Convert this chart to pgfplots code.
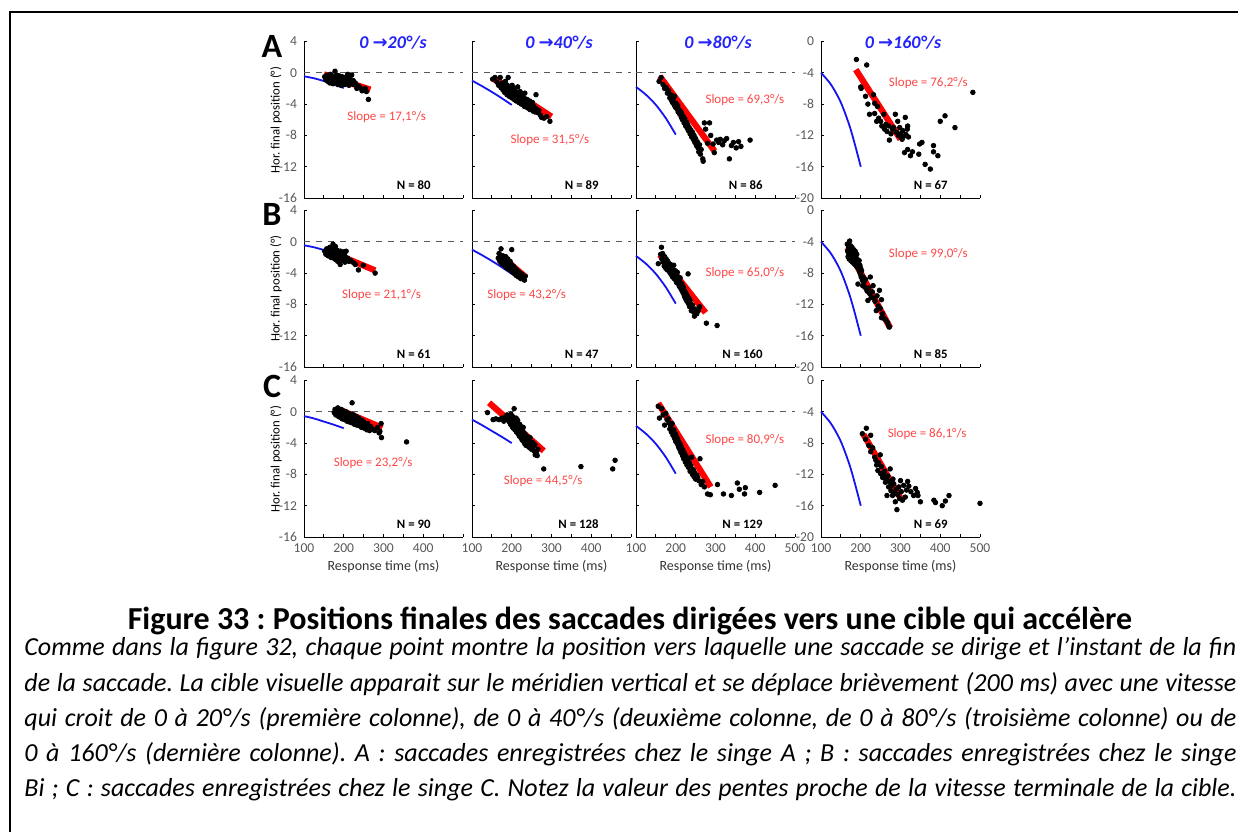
\documentclass[border=0pt]{standalone}
\usepackage{fontspec}
\setmainfont{Carlito}
\newfontfamily\symfont{DejaVu Sans}
\usepackage{pgfplots}
\pgfplotsset{compat=1.18}
\definecolor{tickgray}{RGB}{89,89,89}
\definecolor{slopered}{RGB}{255,70,70}
\definecolor{titleblue}{RGB}{35,35,250}
\definecolor{curveblue}{RGB}{20,20,240}
\tikzset{
  slab/.style={font=\fontsize{6.5}{8}\selectfont, text=slopered},
  nlab/.style={font=\fontsize{6.4}{8}\selectfont\bfseries, anchor=east},
}
\pgfplotsset{
  panel/.style={
    scale only axis, width=79.5pt, height=78.25pt,
    anchor=south west,
    axis x line*=bottom, axis y line*=left,
    xmin=100, xmax=500,
    xtick={100,150,...,500},
    tick align=inside, major tick length=1.6pt,
    tick style={black, line width=0.45pt},
    axis line style={black, line width=0.5pt},
    ticklabel style={font=\fontsize{6.8}{8}\selectfont, text=tickgray},
    xticklabels={},
    clip=false,
  },
  pL/.style={ymin=-16, ymax=4, ytick={-16,-12,-8,-4,0,4}, yticklabels={-16,-12,-8,-4,0,4}},
  pLn/.style={ymin=-16, ymax=4, ytick={-16,-12,-8,-4,0,4}, yticklabels={}},
  pR/.style={ymin=-20, ymax=0, ytick={-20,-16,-12,-8,-4,0}, yticklabels={-20,-16,-12,-8,-4,0}},
  pRn/.style={ymin=-20, ymax=0, ytick={-20,-16,-12,-8,-4,0}, yticklabels={}},
  xl4/.style={xticklabels={100,,200,,300,,400,,}},
  xl5/.style={xticklabels={100,,200,,300,,400,,500}},
  dashl/.style={gray!70!black, dashed, line width=0.5pt, forget plot},
  bluel/.style={curveblue, line width=0.9pt, smooth, no marks},
  dots/.style={only marks, mark=*, mark size=1.15pt, black},
  redl/.style={red, line width=3.1pt, line cap=butt, no marks},
}
\begin{document}
\frenchspacing
\begin{tikzpicture}
\useasboundingbox (0pt,0pt) rectangle (619pt,416pt);

% ---------------- Row A ----------------
\begin{axis}[panel, pL, at={(152pt,317pt)}]
\addplot[dashl] coordinates {(100,0) (500,0)};
\addplot[bluel] coordinates {(100,-0.45) (125,-0.7) (150,-1.05) (175,-1.45) (200,-1.95)};
\addplot[dots] coordinates {(152,-0.5) (155,-0.9) (158,-0.3) (160,-1.1) (162,-0.6) (165,-1.3) (166,-0.2) (168,-0.8) (170,-1.0) (171,-0.4) (173,-1.4) (175,-0.7) (176,-1.1) (178,0.2) (179,-0.5) (180,-1.2) (182,-0.9) (183,-0.3) (185,-1.5) (186,-0.7) (188,-1.0) (189,-0.4) (190,-1.3) (192,-0.8) (193,-1.6) (195,-1.1) (196,-0.5) (198,-1.4) (199,-0.9) (200,-1.2) (202,-0.6) (203,-1.5) (205,-1.0) (207,-1.3) (208,-0.7) (210,-0.2) (211,-1.1) (213,-1.6) (214,-0.8) (216,-0.3) (218,-1.2) (220,-0.3) (221,-1.4) (224,-1.0) (226,-1.5) (229,-1.3) (233,-2.0) (237,-1.7) (241,-1.9) (246,-2.3) (250,-2.2) (254,-2.0) (257,-2.4) (262,-3.4)};
\addplot[redl] coordinates {(150,-0.2) (267,-2.15)};
\node[slab] at (axis cs:308,-5.65) {Slope = 17,1°/s};
\node[nlab] at (rel axis cs:0.84,0.083) {N = 80};
\end{axis}

\begin{axis}[panel, pLn, at={(236pt,317pt)}]
\addplot[dashl] coordinates {(100,0) (500,0)};
\addplot[bluel] coordinates {(100,-1.0) (125,-1.7) (150,-2.45) (175,-3.25) (200,-4.1)};
\addplot[dots] coordinates {(152,-0.8) (158,-0.6) (163,-1.2) (167,-1.6) (171,-0.6) (173,-1.9) (176,-1.3) (178,-2.2) (180,-1.7) (182,-2.5) (184,-1.1) (186,-2.0) (188,-2.8) (189,-1.6) (191,-0.6) (192,-2.3) (194,-3.0) (195,-1.9) (197,-2.6) (199,-2.2) (200,-3.2) (201,-1.6) (203,-2.8) (205,-2.4) (206,-3.4) (208,-2.0) (209,-2.9) (211,-3.6) (212,-2.5) (214,-3.1) (215,-1.8) (217,-2.7) (218,-3.8) (220,-3.3) (221,-2.4) (223,-3.0) (224,-4.0) (226,-3.5) (227,-2.8) (229,-3.9) (230,-3.2) (232,-4.3) (233,-2.6) (235,-3.7) (236,-4.1) (238,-3.4) (240,-4.5) (241,-3.9) (243,-4.2) (245,-3.6) (246,-4.7) (248,-4.1) (250,-4.4) (252,-3.8) (254,-4.9) (256,-4.3) (258,-5.0) (261,-2.8) (262,-4.6) (265,-5.1) (268,-4.8) (272,-5.4) (275,-5.7) (281,-5.8) (288,-5.6) (296,-6.2)};
\addplot[redl] coordinates {(150,-0.64) (300,-5.6)};
\node[slab] at (axis cs:296,-8.55) {Slope = 31,5°/s};
\node[nlab] at (rel axis cs:0.84,0.083) {N = 89};
\end{axis}

\begin{axis}[panel, pRn, at={(318pt,317pt)}]
\addplot[dashl] coordinates {(100,-4) (500,-4)};
\addplot[bluel] coordinates {(100,-5.8) (125,-6.8) (150,-8.1) (175,-9.8) (200,-11.9)};
\addplot[dots] coordinates {(158,-5.1) (163,-4.6) (168,-5.5) (172,-6.0) (176,-5.9) (179,-6.6) (182,-6.3) (185,-7.2) (187,-6.8) (189,-7.5) (190,-6.9) (192,-7.8) (194,-7.3) (196,-8.1) (197,-7.0) (199,-8.4) (201,-7.9) (203,-8.6) (205,-8.2) (206,-9.0) (208,-8.7) (210,-9.3) (212,-8.9) (214,-9.7) (215,-9.2) (217,-10.0) (219,-9.6) (221,-10.4) (223,-9.9) (225,-10.8) (227,-10.3) (229,-11.1) (230,-10.6) (232,-11.4) (234,-11.0) (236,-11.8) (238,-11.3) (240,-12.2) (242,-11.6) (244,-12.5) (246,-12.0) (248,-12.9) (250,-12.4) (252,-13.3) (254,-12.8) (256,-13.6) (258,-14.1) (260,-13.2) (262,-14.4) (264,-13.8) (268,-15.0) (269,-15.3) (272,-10.4) (275,-11.2) (280,-13.0) (285,-10.4) (288,-12.0) (294,-13.1) (297,-14.2) (303,-12.6) (308,-12.9) (312,-12.5) (318,-13.2) (322,-12.7) (328,-12.4) (335,-15.0) (340,-13.3) (345,-12.9) (352,-13.6) (358,-12.8) (364,-13.4) (387,-12.6)};
\addplot[redl] coordinates {(160,-4.45) (297.5,-14.0)};
\node[slab] at (axis cs:374,-7.5) {Slope = 69,3°/s};
\node[nlab] at (rel axis cs:0.84,0.083) {N = 86};
\end{axis}

\begin{axis}[panel, pR, at={(410.5pt,317pt)}]
\addplot[bluel] coordinates {(100,-4.0) (125,-5.5) (150,-7.8) (175,-11.3) (200,-16.0)};
\addplot[dots] coordinates {(189,-2.3) (200,-5.8) (201,-6.0) (215,-3.0) (212,-7.0) (218,-8.0) (222,-9.3) (232,-6.8) (235,-7.9) (235,-9.2) (240,-10.2) (242,-8.3) (245,-9.8) (250,-10.2) (253,-10.8) (258,-9.3) (260,-11.2) (263,-10.6) (266,-11.5) (271,-10.8) (272,-12.6) (276,-11.8) (280,-11.2) (283,-11.0) (287,-9.3) (290,-11.6) (293,-10.2) (295,-12.0) (298,-11.0) (300,-11.8) (302,-12.3) (304,-12.5) (306,-11.4) (308,-12.1) (310,-14.2) (312,-9.7) (314,-11.9) (317,-11.2) (318,-10.8) (318,-13.8) (320,-12.2) (325,-14.6) (330,-14.1) (346,-14.4) (348,-13.1) (354,-12.9) (362,-15.7) (375,-16.3) (383,-14.1) (383,-13.3) (394,-14.6) (400,-10.2) (412,-9.5) (437,-11.0) (482,-6.5)};
\addplot[redl] coordinates {(187.5,-3.6) (300,-12.5)};
\node[slab] at (axis cs:370,-5.3) {Slope = 76,2°/s};
\node[nlab] at (rel axis cs:0.84,0.083) {N = 67};
\end{axis}

% ---------------- Row B ----------------
\begin{axis}[panel, pL, at={(152pt,232.5pt)}]
\addplot[dashl] coordinates {(100,0) (500,0)};
\addplot[bluel] coordinates {(100,-0.45) (125,-0.7) (150,-1.05) (175,-1.45) (200,-1.95)};
\addplot[dots] coordinates {(152,-1.2) (155,-1.6) (157,-0.9) (159,-1.4) (161,-1.8) (163,-1.1) (165,-0.7) (166,-1.5) (168,-2.0) (169,-1.2) (171,-0.8) (172,-1.7) (173,-0.3) (174,-1.3) (175,-2.1) (177,-1.0) (178,-1.6) (179,-0.6) (180,-2.3) (181,-1.4) (183,-1.9) (184,-1.1) (185,-2.5) (186,-1.6) (188,-1.3) (189,-2.0) (190,-1.7) (191,-2.9) (192,-1.2) (194,-2.2) (195,-1.5) (196,-1.9) (198,-2.4) (199,-1.3) (200,-2.1) (202,-1.7) (203,-2.6) (205,-2.0) (206,-1.2) (208,-2.3) (210,-2.1) (213,-2.5) (218,-2.4) (225,-2.7) (229,-2.9) (237,-3.6) (249,-3.0) (279,-4.0)};
\addplot[redl] coordinates {(154,-1.0) (279,-3.66)};
\node[slab] at (axis cs:295,-6.85) {Slope = 21,1°/s};
\node[nlab] at (rel axis cs:0.84,0.083) {N = 61};
\end{axis}

\begin{axis}[panel, pLn, at={(236pt,232.5pt)}]
\addplot[dashl] coordinates {(100,0) (500,0)};
\addplot[bluel] coordinates {(100,-1.0) (125,-1.7) (150,-2.45) (175,-3.25) (200,-4.1)};
\addplot[dots] coordinates {(166,-2.1) (168,-1.5) (170,-2.5) (172,-1.9) (173,-0.9) (175,-2.8) (176,-2.2) (178,-1.8) (179,-2.6) (181,-3.0) (182,-2.3) (184,-2.9) (185,-1.9) (186,-3.3) (188,-2.6) (189,-3.1) (190,-2.2) (192,-3.5) (193,-2.8) (195,-3.2) (196,-2.5) (198,-3.6) (199,-2.9) (200,-1.0) (201,-3.4) (202,-3.9) (204,-3.1) (205,-3.7) (207,-4.1) (208,-3.4) (210,-3.8) (211,-4.3) (213,-3.6) (215,-4.2) (217,-4.5) (219,-3.9) (221,-4.4) (223,-4.7) (225,-4.1) (228,-4.5) (230,-4.8) (232,-4.9) (234,-4.4)};
\addplot[redl] coordinates {(169,-1.66) (236,-4.55)};
\node[slab] at (axis cs:237.6,-6.85) {Slope = 43,2°/s};
\node[nlab] at (rel axis cs:0.84,0.083) {N = 47};
\end{axis}

\begin{axis}[panel, pRn, at={(318pt,232.5pt)}]
\addplot[dashl] coordinates {(100,-4) (500,-4)};
\addplot[bluel] coordinates {(100,-5.8) (125,-6.8) (150,-8.1) (175,-9.8) (200,-11.9)};
\addplot[dots] coordinates {(156,-6.8) (164,-4.7) (162,-5.6) (165,-6.2) (167,-5.5) (168,-6.6) (170,-6.0) (171,-7.1) (172,-5.9) (174,-6.5) (175,-7.4) (176,-6.2) (178,-6.9) (179,-7.6) (180,-6.5) (181,-7.2) (183,-6.8) (184,-7.8) (185,-7.1) (186,-8.0) (187,-6.9) (188,-7.5) (189,-8.2) (190,-7.3) (191,-7.9) (192,-8.5) (193,-7.6) (194,-8.1) (195,-7.0) (196,-8.7) (197,-8.0) (198,-8.4) (199,-7.7) (200,-8.9) (201,-8.3) (202,-9.2) (203,-8.6) (204,-7.9) (205,-9.0) (206,-8.5) (207,-9.4) (208,-8.9) (209,-9.7) (210,-9.1) (211,-8.6) (212,-9.5) (213,-10.0) (214,-9.3) (215,-9.8) (216,-10.3) (217,-9.6) (218,-10.1) (219,-10.6) (220,-9.9) (221,-10.5) (222,-11.0) (223,-10.3) (224,-10.8) (225,-11.3) (226,-10.6) (227,-11.1) (228,-11.6) (229,-10.9) (230,-11.4) (231,-8.1) (232,-11.9) (233,-11.2) (234,-11.7) (235,-12.3) (236,-11.5) (238,-12.0) (239,-12.8) (240,-12.4) (242,-12.1) (244,-12.9) (247,-13.5) (250,-12.6) (253,-13.2) (257,-12.8) (260,-12.3) (277,-14.4) (304,-14.7)};
\addplot[redl] coordinates {(160,-5.66) (275,-13.06)};
\node[slab] at (axis cs:374,-7.96) {Slope = 65,0°/s};
\node[nlab] at (rel axis cs:0.84,0.083) {N = 160};
\end{axis}

\begin{axis}[panel, pR, at={(410.5pt,232.5pt)}]
\addplot[bluel] coordinates {(100,-4.0) (125,-5.5) (150,-7.8) (175,-11.3) (200,-16.0)};
\addplot[dots] coordinates {(166,-4.3) (167,-5.2) (168,-5.9) (169,-4.8) (170,-5.5) (171,-6.2) (172,-3.9) (172,-5.0) (173,-5.7) (174,-4.5) (175,-6.4) (176,-5.1) (177,-5.9) (178,-4.7) (179,-6.6) (180,-5.4) (181,-6.1) (182,-5.0) (183,-6.8) (184,-5.7) (185,-6.3) (186,-5.2) (187,-7.0) (188,-6.0) (189,-6.6) (190,-5.6) (191,-7.2) (192,-6.3) (193,-9.4) (194,-6.9) (195,-7.5) (196,-6.4) (197,-7.8) (198,-7.0) (199,-8.1) (200,-7.4) (201,-8.5) (202,-7.7) (204,-8.9) (205,-9.6) (206,-8.5) (208,-9.2) (210,-9.8) (212,-8.8) (214,-10.0) (216,-10.3) (218,-11.5) (220,-9.9) (222,-10.6) (224,-8.5) (226,-11.1) (229,-10.4) (231,-9.6) (233,-11.2) (236,-11.6) (239,-12.8) (241,-10.9) (244,-12.2) (247,-10.2) (249,-12.5) (252,-11.4) (252,-13.7) (255,-13.2) (259,-13.8) (263,-14.0) (267,-14.3) (270,-14.7) (272,-14.9)};
\addplot[redl] coordinates {(166,-4.77) (274,-15.0)};
\node[slab] at (axis cs:370,-5.6) {Slope = 99,0°/s};
\node[nlab] at (rel axis cs:0.84,0.083) {N = 85};
\end{axis}

% ---------------- Row C ----------------
\begin{axis}[panel, pL, xl4, at={(152pt,147.5pt)}]
\addplot[dashl] coordinates {(100,0) (500,0)};
\addplot[bluel] coordinates {(100,-0.55) (125,-0.85) (150,-1.25) (175,-1.65) (200,-2.1)};
\addplot[dots] coordinates {(176,-0.1) (178,0.3) (180,-0.4) (182,0.1) (184,-0.2) (185,0.5) (187,-0.6) (188,-0.1) (190,0.2) (191,-0.7) (193,-0.3) (194,0.3) (196,-0.9) (197,-0.2) (199,-0.5) (200,0.1) (202,-1.0) (203,-0.4) (205,-0.7) (206,0.0) (208,-1.2) (209,-0.5) (211,-0.9) (212,-0.2) (214,-1.3) (215,-0.6) (217,-1.0) (218,-0.3) (220,-1.4) (221,1.15) (222,-0.8) (224,-1.1) (225,-0.4) (227,-1.6) (228,-0.9) (230,-1.3) (231,-0.6) (233,-1.7) (235,-1.0) (236,-1.4) (238,-0.8) (240,-1.8) (241,-1.2) (243,-1.5) (245,-2.0) (246,-1.1) (248,-1.7) (250,-1.3) (252,-2.1) (254,-1.6) (256,-1.9) (258,-2.3) (260,-1.5) (262,-2.0) (265,-2.4) (268,-1.9) (272,-2.2) (278,-2.4) (285,-2.0) (289,-2.7) (291,-2.5) (294,-1.5) (295,-3.3) (358,-3.85)};
\addplot[redl] coordinates {(182,0.43) (297,-2.05)};
\node[slab] at (axis cs:274,-6.5) {Slope = 23,2°/s};
\node[nlab] at (rel axis cs:0.84,0.083) {N = 90};
\end{axis}

\begin{axis}[panel, pLn, xl4, at={(236pt,147.5pt)}]
\addplot[dashl] coordinates {(100,0) (500,0)};
\addplot[bluel] coordinates {(100,-1.0) (125,-1.7) (150,-2.45) (175,-3.2) (200,-4.0)};
\addplot[dots] coordinates {(139,-0.1) (153,-1.0) (160,-0.9) (168,-1.0) (175,-0.8) (180,-1.2) (184,-0.7) (188,-0.4) (190,-1.0) (192,-0.5) (194,-1.3) (196,-0.8) (197,-1.6) (198,-0.3) (200,-1.1) (201,-1.9) (202,-0.6) (203,-1.4) (204,-2.1) (205,-0.9) (206,0.4) (207,-1.7) (208,-2.3) (209,-1.2) (210,-2.0) (211,-0.8) (212,-2.6) (213,-1.5) (214,-2.2) (215,-1.1) (216,-2.8) (217,-1.8) (218,-2.4) (219,-3.1) (220,-1.6) (221,-2.7) (222,-2.1) (223,-3.3) (224,-1.9) (225,-2.9) (226,-3.6) (227,-2.4) (228,-3.2) (229,-2.0) (230,-3.8) (231,-2.7) (232,-3.4) (233,-4.1) (234,-2.9) (235,-3.6) (236,-4.3) (237,-3.1) (238,-3.9) (240,-3.4) (241,-4.4) (243,-3.7) (245,-4.6) (246,-3.3) (248,-4.1) (250,-4.8) (252,-3.9) (254,-4.5) (256,-5.0) (258,-4.2) (259,-5.5) (262,-5.3) (264,-5.6) (266,-4.8) (280.5,-7.3) (374,-7.0) (454,-7.3) (460,-6.2)};
\addplot[redl] coordinates {(143,1.15) (280.5,-5.0)};
\node[slab] at (axis cs:279,-8.8) {Slope = 44,5°/s};
\node[nlab] at (rel axis cs:0.84,0.083) {N = 128};
\end{axis}

\begin{axis}[panel, pRn, xl5, at={(318pt,147.5pt)}]
\addplot[dashl] coordinates {(100,-4) (500,-4)};
\addplot[bluel] coordinates {(100,-5.8) (125,-6.8) (150,-8.1) (175,-9.8) (200,-11.9)};
\addplot[dots] coordinates {(156,-3.3) (159,-4.8) (165,-3.6) (168,-4.4) (172,-5.7) (175,-4.2) (178,-5.0) (181,-4.9) (183,-5.4) (185,-6.2) (187,-5.8) (189,-6.6) (191,-5.5) (193,-7.0) (195,-6.3) (197,-7.4) (199,-6.8) (200,-7.8) (202,-7.2) (204,-8.1) (205,-7.5) (207,-8.5) (208,-7.9) (210,-8.8) (212,-8.2) (213,-9.2) (215,-8.6) (217,-9.6) (218,-8.9) (220,-10.0) (222,-9.3) (224,-10.4) (226,-9.7) (228,-10.8) (230,-10.1) (232,-11.1) (234,-10.5) (236,-11.6) (238,-10.9) (240,-9.8) (242,-12.0) (244,-11.4) (246,-12.3) (248,-11.8) (250,-12.6) (253,-12.1) (255,-12.4) (258,-12.8) (261,-10.0) (264,-13.3) (268,-12.9) (272,-13.6) (280,-14.5) (287,-14.6) (305,-13.3) (320,-14.5) (340,-14.7) (355,-13.1) (360,-13.9) (375,-13.7) (373,-14.5) (411,-14.3) (450,-13.4)};
\addplot[redl] coordinates {(156,-2.9) (288,-13.6)};
\node[slab] at (axis cs:374,-7.56) {Slope = 80,9°/s};
\node[nlab] at (rel axis cs:0.84,0.083) {N = 129};
\end{axis}

\begin{axis}[panel, pR, xl5, at={(410.5pt,147.5pt)}]
\addplot[bluel] coordinates {(100,-4.0) (125,-5.5) (150,-7.8) (175,-11.3) (200,-16.0)};
\addplot[dots] coordinates {(204,-6.8) (214,-6.1) (212,-7.5) (220,-8.3) (225,-7.0) (225,-9.1) (230,-8.6) (235,-9.8) (238,-10.2) (240,-10.8) (243,-11.5) (245,-10.5) (249,-9.5) (250,-11.9) (252,-11.0) (255,-12.4) (257,-12.1) (260,-11.6) (262,-13.0) (264,-12.6) (266,-14.7) (268,-12.2) (270,-13.6) (272,-12.9) (274,-11.3) (276,-14.1) (278,-13.4) (280,-14.7) (281,-12.6) (283,-13.2) (285,-14.4) (287,-15.5) (289,-13.9) (291,-16.5) (293,-14.6) (296,-13.6) (298,-15.1) (300,-12.8) (302,-14.2) (305,-15.3) (308,-13.4) (312,-14.9) (315,-14.0) (318,-12.9) (321,-13.5) (326,-14.2) (333,-14.7) (338,-13.8) (342,-14.3) (344,-14.7) (350,-15.5) (384,-15.3) (388,-15.6) (405,-16.0) (413,-15.4) (422,-14.7) (500,-15.7)};
\addplot[redl] coordinates {(207,-6.9) (302,-15.2)};
\node[slab] at (axis cs:367,-6.8) {Slope = 86,1°/s};
\node[nlab] at (rel axis cs:0.84,0.083) {N = 69};
\end{axis}

\begin{scope}[x=0.5pt,y=0.5pt]
\draw[line width=1.1pt] (10,0) -- (10,820) -- (1238,820);
% ---------------- labels ----------------
\foreach \yy/\ll in {786/A,618/B,446/C} {
  \node[font=\fontsize{17}{18}\selectfont\bfseries] at (272,\yy) {\ll};
}
\foreach \yy in {712,543.5,373} {
  \node[rotate=90, font=\fontsize{6.4}{7}\selectfont] at (276,\yy) {Hor. final position (°)};
}
\foreach \xx in {383.5,551.5,715.5,900.5} {
  \node[font=\fontsize{7}{8}\selectfont, text=black!80] at (\xx,265) {Response time (ms)};
}
\node[font=\fontsize{9}{10}\selectfont\bfseries\itshape, text=titleblue] at (393,789) {0 {\symfont\bfseries\upshape →}20°/s};
\node[font=\fontsize{9}{10}\selectfont\bfseries\itshape, text=titleblue] at (559,789) {0 {\symfont\bfseries\upshape →}40°/s};
\node[font=\fontsize{9}{10}\selectfont\bfseries\itshape, text=titleblue] at (718,789) {0 {\symfont\bfseries\upshape →}80°/s};
\node[font=\fontsize{9}{10}\selectfont\bfseries\itshape, text=titleblue] at (903,789) {0 {\symfont\bfseries\upshape →}160°/s};

% ---------------- caption ----------------
\node[anchor=base, font=\fontsize{16}{18}\selectfont\bfseries] at (630,203) {Figure 33 : Positions finales des saccades dirigées vers une cible qui accélère};
\begin{scope}[every node/.style={anchor=base west, inner sep=0pt, font=\fontsize{13}{15}\selectfont\itshape}]
\node at (24,177) {\makebox[606pt][s]{Comme dans la figure 32, chaque point montre la position vers laquelle une saccade se dirige et l’instant de la fin}};
\node at (24,141) {\makebox[606pt][s]{de la saccade. La cible visuelle apparait sur le méridien vertical et se déplace brièvement (200 ms) avec une vitesse}};
\node at (24,106) {\makebox[606pt][s]{qui croit de 0 à 20°/s (première colonne), de 0 à 40°/s (deuxième colonne, de 0 à 80°/s (troisième colonne) ou de}};
\node at (24,71) {\makebox[606pt][s]{0 à 160°/s (dernière colonne). A : saccades enregistrées chez le singe A ; B : saccades enregistrées chez le singe}};
\node at (24,36) {\makebox[606pt][s]{Bi ; C : saccades enregistrées chez le singe C. Notez la valeur des pentes proche de la vitesse terminale de la cible.}};
\end{scope}
\end{scope}
\end{tikzpicture}
\end{document}
